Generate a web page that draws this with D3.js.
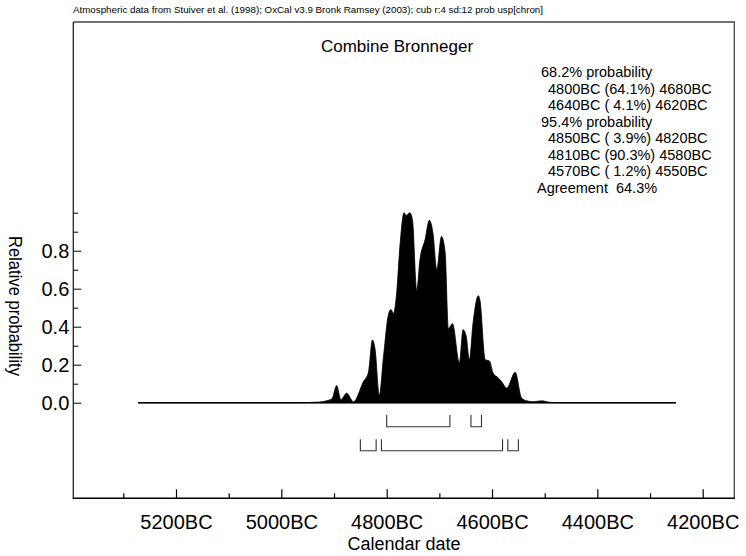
<!DOCTYPE html>
<html>
<head>
<meta charset="utf-8">
<script src="https://cdn.jsdelivr.net/npm/d3@7"></script>
<style>
  html, body { margin: 0; padding: 0; background: #fff; }
  svg { display: block; }
  text { font-family: "Liberation Sans", Arial, sans-serif; fill: #000; }
</style>
</head>
<body>
<svg id="chart" width="746" height="556"></svg>
<script>
// ---- data ----
const headerText = "Atmospheric data from Stuiver et al. (1998); OxCal v3.9 Bronk Ramsey (2003); cub r:4 sd:12 prob usp[chron]";
const titleText = "Combine Bronneger";
const years = [5272, 4965, 4940, 4927, 4904, 4895, 4887, 4876, 4863, 4844, 4835, 4827, 4822, 4814, 4806, 4797, 4792, 4787, 4781, 4775, 4767, 4763, 4756, 4751, 4743, 4737, 4727, 4719, 4712, 4705, 4696, 4689, 4683, 4675, 4662, 4655, 4649, 4643, 4636, 4626, 4623, 4613, 4605, 4598, 4588, 4582, 4572, 4556, 4544, 4534, 4522, 4506, 4490, 4471, 4251];
const prob = [0, 0, 0.002, 0.004, 0.02, 0.09, 0.016, 0.05, 0.005, 0.112, 0.156, 0.33, 0.28, 0.04, 0.244, 0.46, 0.49, 0.47, 0.58, 0.82, 1.0, 0.985, 1.0, 0.96, 0.59, 0.75, 0.86, 0.96, 0.89, 0.70, 0.875, 0.79, 0.39, 0.416, 0.21, 0.384, 0.35, 0.226, 0.42, 0.563, 0.54, 0.226, 0.22, 0.156, 0.13, 0.112, 0.077, 0.16, 0.025, 0.01, 0.005, 0.01, 0.002, 0, 0];
const ranges68 = [[4800, 4680], [4640, 4620]];
const ranges95 = [[4850, 4820], [4810, 4580], [4570, 4550]];
const xMajorTicks = [5200, 5000, 4800, 4600, 4400, 4200];
const xMinorTicks = [5300, 5100, 4900, 4700, 4500, 4300];
const yMajorTicks = [0, 0.2, 0.4, 0.6, 0.8];
const yMinorTicks = [0.1, 0.3, 0.5, 0.7, 0.9, 1.0];
const legendLines = [
  "68.2% probability",
  "  4800BC (64.1%) 4680BC",
  "  4640BC ( 4.1%) 4620BC",
  "95.4% probability",
  "  4850BC ( 3.9%) 4820BC",
  "  4810BC (90.3%) 4580BC",
  "  4570BC ( 1.2%) 4550BC",
  "Agreement  64.3%"
];
const xLabel = "Calendar date";
const yLabel = "Relative probability";

// ---- layout ----
const svg = d3.select("#chart");
const L = 73.3, R = 734.3, T = 22, B = 498.3;
const x = d3.scaleLinear().domain([5395, 4140]).range([L, R]);
const y = d3.scaleLinear().domain([0, 1]).range([402.7, 212.7]);

// header
svg.append("text").attr("x", 73).attr("y", 13)
  .attr("font-size", 9).attr("textLength", 470).attr("lengthAdjust", "spacingAndGlyphs")
  .text(headerText);

// frame (top + right)
svg.append("path")
  .attr("d", `M${L},${T}H${R}V${B}`)
  .attr("fill", "none").attr("stroke", "#444").attr("stroke-width", 1.3);

// title
svg.append("text").attr("x", 397).attr("y", 52).attr("text-anchor", "middle")
  .attr("font-size", 17).text(titleText);

// legend
const leg = svg.append("g");
legendLines.forEach((s, i) => {
  let xx = 541;
  if (s.startsWith("  ")) xx = 548;
  if (s.startsWith("Agreement")) xx = 537;
  leg.append("text").attr("x", xx).attr("y", 77 + i * 16.5)
    .attr("font-size", 14.5).style("white-space", "pre")
    .text(s.trim());
});

// distribution
const pts = years.map((yr, i) => [yr, prob[i]]);
const area = d3.area().x(d => x(d[0])).y0(y(0)).y1(d => y(d[1])).curve(d3.curveMonotoneX);
svg.append("path").datum(pts).attr("d", area).attr("fill", "#000").attr("stroke", "#000").attr("stroke-width", 0.8);
svg.append("line").attr("x1", x(years[0])).attr("x2", x(years[years.length - 1]))
  .attr("y1", y(0)).attr("y2", y(0)).attr("stroke", "#000").attr("stroke-width", 1.5);

// range brackets
function drawRanges(data, top, bot) {
  svg.append("g").selectAll("path").data(data).join("path")
    .attr("d", d => `M${x(d[0])},${top}V${bot}H${x(d[1])}V${top}`)
    .attr("fill", "none").attr("stroke", "#333").attr("stroke-width", 1.1);
}
drawRanges(ranges68, 415, 426.7);
drawRanges(ranges95, 439.3, 450.7);

// x axis
const xAxisMajor = d3.axisBottom(x).tickValues(xMajorTicks).tickSize(-9).tickPadding(17)
  .tickFormat(d => d + "BC");
const gx = svg.append("g").attr("transform", `translate(0,${B})`).call(xAxisMajor);
gx.select(".domain").remove();
gx.selectAll("text").attr("font-size", 20).attr("font-family", "Liberation Sans, Arial, sans-serif").attr("fill", "#000");
gx.selectAll("line").attr("stroke", "#000").attr("stroke-width", 1.2);
const gxm = svg.append("g").attr("transform", `translate(0,${B})`)
  .call(d3.axisBottom(x).tickValues(xMinorTicks).tickSize(-5).tickFormat(""));
gxm.select(".domain").remove();
gxm.selectAll("line").attr("stroke", "#000").attr("stroke-width", 1.2);
svg.append("line").attr("x1", L - 0.6).attr("x2", R + 0.6).attr("y1", B).attr("y2", B)
  .attr("stroke", "#000").attr("stroke-width", 1.5);

// y axis
const gy = svg.append("g").attr("transform", `translate(${L},0)`)
  .call(d3.axisLeft(y).tickValues(yMajorTicks).tickSize(-8).tickPadding(4).tickFormat(d3.format(".1f")));
gy.select(".domain").remove();
gy.selectAll("text").attr("font-size", 20).attr("font-family", "Liberation Sans, Arial, sans-serif").attr("fill", "#000");
gy.selectAll("line").attr("stroke", "#000").attr("stroke-width", 1);
const gym = svg.append("g").attr("transform", `translate(${L},0)`)
  .call(d3.axisLeft(y).tickValues(yMinorTicks).tickSize(-5).tickFormat(""));
gym.select(".domain").remove();
gym.selectAll("line").attr("stroke", "#000").attr("stroke-width", 1);
svg.append("line").attr("x1", L).attr("x2", L).attr("y1", T).attr("y2", B)
  .attr("stroke", "#222").attr("stroke-width", 1.3);

// axis titles
svg.append("text").attr("x", 404).attr("y", 550).attr("text-anchor", "middle")
  .attr("font-size", 18).text(xLabel);
svg.append("text").attr("transform", "translate(9,306) rotate(90)")
  .attr("text-anchor", "middle").attr("font-size", 18)
  .attr("textLength", 140).attr("lengthAdjust", "spacingAndGlyphs").text(yLabel);
</script>
</body>
</html>
